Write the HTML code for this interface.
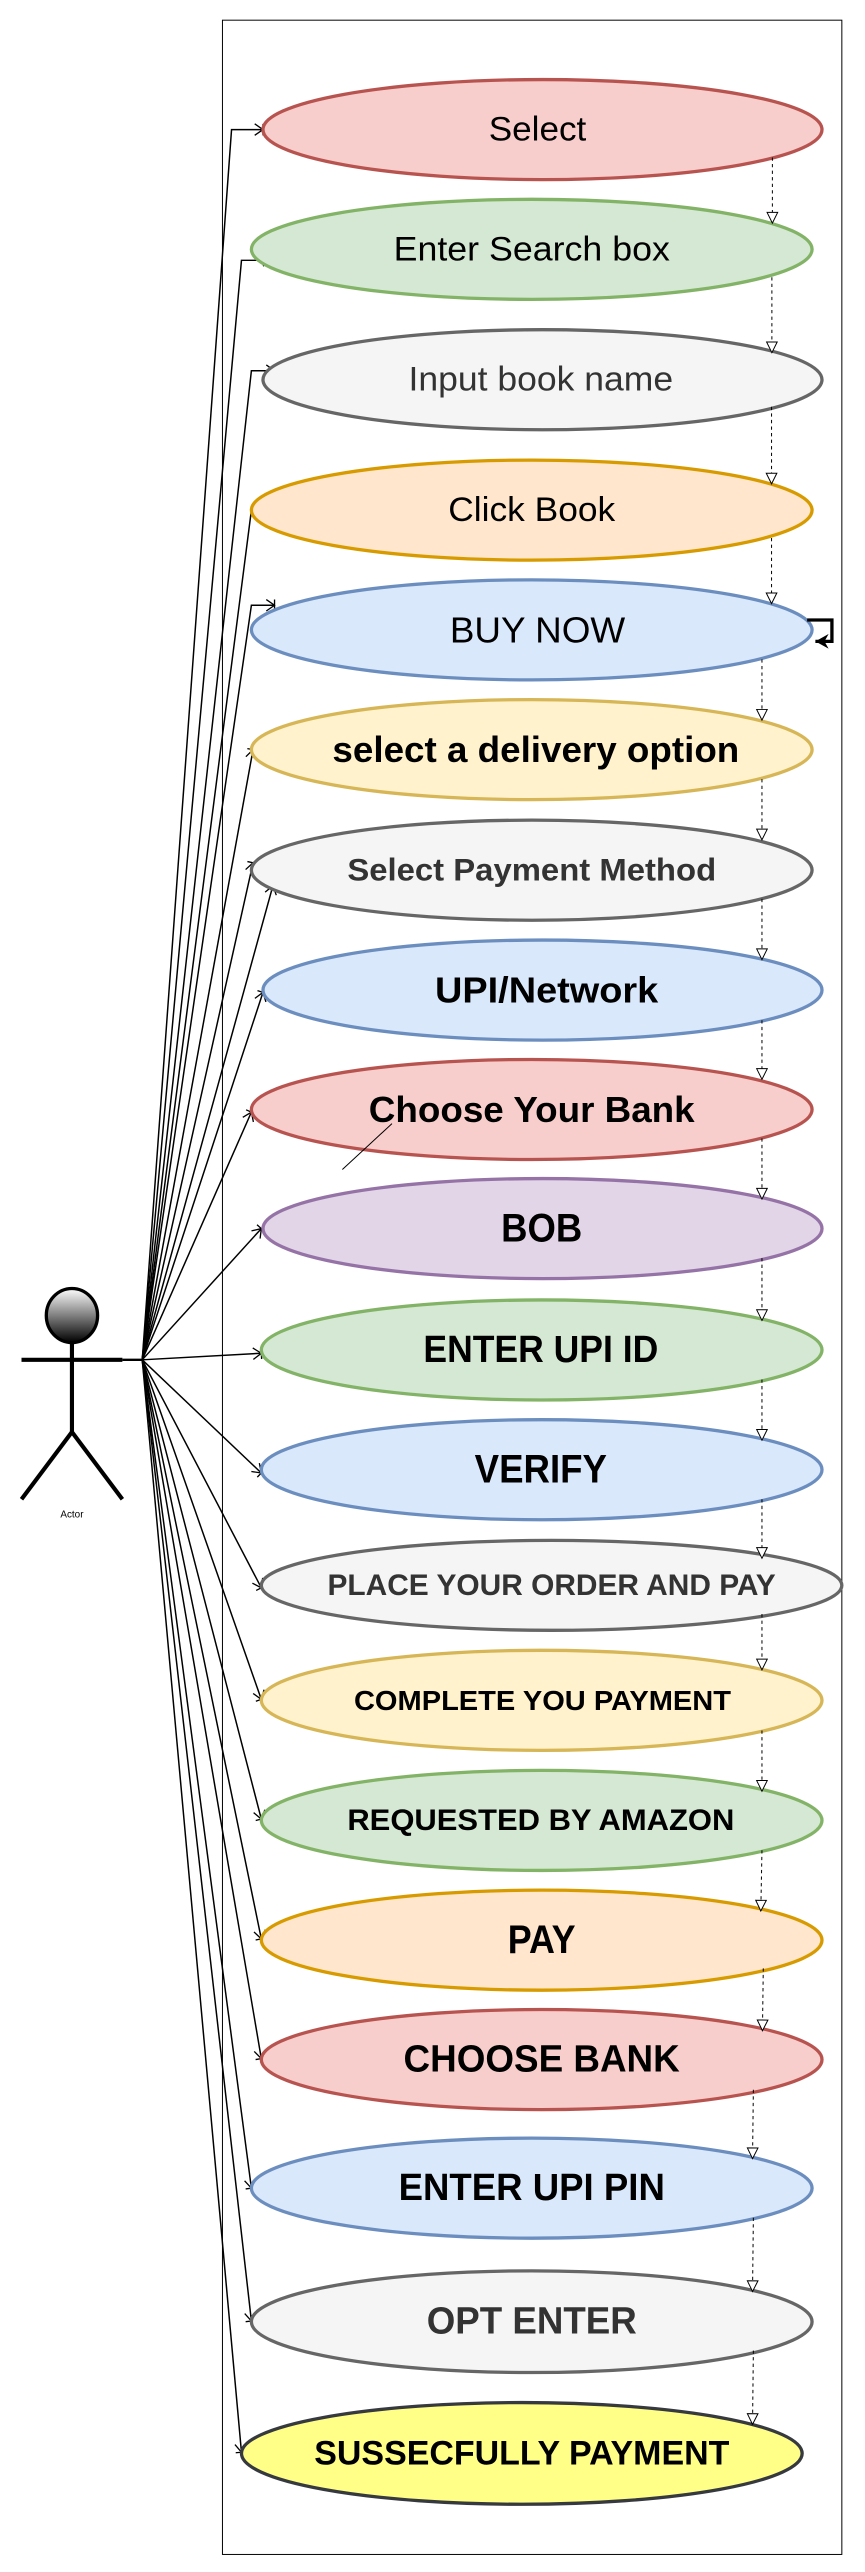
<!DOCTYPE html>
<html><head><meta charset="utf-8"><style>html,body{margin:0;padding:0;background:#fff}svg{display:block}</style></head>
<body>
<svg width="865" height="2572" viewBox="0 0 523 1568" preserveAspectRatio="none" xmlns="http://www.w3.org/2000/svg" font-family="Liberation Sans, Arial, sans-serif">
<defs>
<marker id="tri" markerWidth="8" markerHeight="8" refX="7" refY="4" orient="auto" markerUnits="userSpaceOnUse"><path d="M0.5,0.8 L7,4 L0.5,7.2 Z" fill="#fff" stroke="#000" stroke-width="0.6"/></marker>
<marker id="tick" markerWidth="8" markerHeight="8" refX="6" refY="4" orient="auto" markerUnits="userSpaceOnUse"><path d="M1,0.5 L6,4 L1,7.5 M6,0.5 L6,7.5" fill="none" stroke="#000" stroke-width="0.8"/></marker>
<marker id="fill" markerWidth="10" markerHeight="10" refX="8" refY="5" orient="auto" markerUnits="userSpaceOnUse"><path d="M0,0.5 L8,5 L0,9.5 L2.5,5 Z" fill="#000"/></marker>
<linearGradient id="hg" x1="0" y1="0" x2="0" y2="1"><stop offset="0" stop-color="#fff"/><stop offset="1" stop-color="#000"/></linearGradient>
</defs>

<rect x="134.5" y="12.3" width="374.5" height="1545" fill="none" stroke="#000" stroke-width="0.6"/>

<g fill="none" stroke="#000" stroke-width="0.9" marker-end="url(#tick)">
<polyline points="86,829 140,79 159,79"/>
<polyline points="86,829 146,158.7 164,158.7"/>
<polyline points="86,829 152,226 166,226"/>
<polyline points="86,829 152,311 166,311"/>
<polyline points="86,829 152,369 166,369"/>
<line x1="86" y1="829" x2="153" y2="457"/>
<line x1="86" y1="829" x2="153" y2="526"/>
<line x1="86" y1="829" x2="165" y2="540"/>
<line x1="86" y1="829" x2="159" y2="605"/>
<line x1="86" y1="829" x2="152" y2="678"/>
<line x1="86" y1="829" x2="158" y2="749"/>
<line x1="86" y1="829" x2="158" y2="825"/>
<line x1="86" y1="829" x2="158" y2="898"/>
<line x1="86" y1="829" x2="158" y2="968"/>
<line x1="86" y1="829" x2="158" y2="1036"/>
<line x1="86" y1="829" x2="158" y2="1109"/>
<line x1="86" y1="829" x2="158" y2="1182"/>
<line x1="86" y1="829" x2="158" y2="1255"/>
<line x1="86" y1="829" x2="152" y2="1334"/>
<line x1="86" y1="829" x2="152" y2="1415"/>
<line x1="86" y1="829" x2="146" y2="1495"/>
</g>

<g stroke-width="2">
<ellipse cx="328" cy="79" rx="169" ry="30.5" fill="#f8cecc" stroke="#b85450"/>
<ellipse cx="321.5" cy="152" rx="169.5" ry="30.5" fill="#d5e8d4" stroke="#82b366"/>
<ellipse cx="328" cy="231.5" rx="169" ry="30.5" fill="#f5f5f5" stroke="#666666"/>
<ellipse cx="321.5" cy="311" rx="169.5" ry="30.5" fill="#ffe6cc" stroke="#d79b00"/>
<ellipse cx="321.5" cy="384" rx="169.5" ry="30.5" fill="#dae8fc" stroke="#6c8ebf"/>
<ellipse cx="321.5" cy="457" rx="169.5" ry="30.5" fill="#fff2cc" stroke="#d6b656"/>
<ellipse cx="321.5" cy="530.5" rx="169.5" ry="30.5" fill="#f5f5f5" stroke="#666666"/>
<ellipse cx="328" cy="603.6" rx="169" ry="30.5" fill="#dae8fc" stroke="#6c8ebf"/>
<ellipse cx="321.5" cy="676.4" rx="169.5" ry="30.5" fill="#f8cecc" stroke="#b85450"/>
<ellipse cx="328" cy="749" rx="169" ry="30.5" fill="#e1d5e7" stroke="#9673a6"/>
<ellipse cx="327.5" cy="823" rx="169.5" ry="30.5" fill="#d5e8d4" stroke="#82b366"/>
<ellipse cx="327.5" cy="896" rx="169.5" ry="30.5" fill="#dae8fc" stroke="#6c8ebf"/>
<ellipse cx="333.5" cy="966.5" rx="175.5" ry="27.4" fill="#f5f5f5" stroke="#666666"/>
<ellipse cx="327.5" cy="1036.6" rx="169.5" ry="30.5" fill="#fff2cc" stroke="#d6b656"/>
<ellipse cx="327.5" cy="1109.8" rx="169.5" ry="30.5" fill="#d5e8d4" stroke="#82b366"/>
<ellipse cx="327.5" cy="1182.8" rx="169.5" ry="30.5" fill="#ffe6cc" stroke="#d79b00"/>
<ellipse cx="327.5" cy="1255.6" rx="169.5" ry="30.5" fill="#f8cecc" stroke="#b85450"/>
<ellipse cx="321.5" cy="1334" rx="169.5" ry="30.5" fill="#dae8fc" stroke="#6c8ebf"/>
<ellipse cx="321.5" cy="1415.4" rx="169.5" ry="31" fill="#f5f5f5" stroke="#666666"/>
<ellipse cx="315.5" cy="1495.7" rx="169.5" ry="31" fill="#ffff88" stroke="#36393d"/>
</g>

<g fill="none" stroke="#000" stroke-width="0.6" stroke-dasharray="2,2" marker-end="url(#tri)">
<line x1="467" y1="96" x2="467" y2="136"/>
<line x1="466.7" y1="169" x2="466.7" y2="215"/>
<line x1="466.5" y1="248" x2="466.5" y2="295"/>
<line x1="466.5" y1="328" x2="466.5" y2="368"/>
<line x1="460.7" y1="402" x2="460.7" y2="439"/>
<line x1="460.7" y1="475" x2="460.7" y2="512"/>
<line x1="460.7" y1="548" x2="460.7" y2="585"/>
<line x1="460.7" y1="622" x2="460.7" y2="658"/>
<line x1="460.7" y1="694" x2="460.7" y2="731"/>
<line x1="460.7" y1="767" x2="460.7" y2="805"/>
<line x1="460.7" y1="841" x2="460.7" y2="878"/>
<line x1="460.7" y1="914" x2="460.7" y2="950"/>
<line x1="460.7" y1="984" x2="460.7" y2="1018"/>
<line x1="460.7" y1="1055" x2="460.7" y2="1092"/>
<line x1="460.7" y1="1128" x2="460" y2="1165"/>
<line x1="461.5" y1="1200" x2="461" y2="1238"/>
<line x1="455.5" y1="1274" x2="455" y2="1316"/>
<line x1="455.5" y1="1352" x2="455" y2="1397"/>
<line x1="455.5" y1="1433" x2="455" y2="1478"/>
</g>

<polyline points="488,378 503,378 503,391 493,391" fill="none" stroke="#000" stroke-width="2" marker-end="url(#fill)"/>
<line x1="237" y1="685" x2="207" y2="713" stroke="#000" stroke-width="0.6"/>

<g stroke="#000" stroke-width="2.5" fill="none" stroke-linecap="butt">
<ellipse cx="43.5" cy="802" rx="15.5" ry="16.5" fill="url(#hg)" stroke-width="2"/>
<line x1="43.5" y1="818.5" x2="43.5" y2="873"/>
<line x1="13" y1="829" x2="74" y2="829"/>
<line x1="74" y1="829" x2="86" y2="829" stroke-width="1.5"/>
<line x1="43.5" y1="873" x2="13" y2="914"/>
<line x1="43.5" y1="873" x2="74" y2="914"/>
</g>
<text x="43.5" y="925" font-size="6" text-anchor="middle" fill="#000">Actor</text>

<g text-anchor="middle" dominant-baseline="central" fill="#000">
<text x="325" y="79" font-size="21" textLength="59" lengthAdjust="spacingAndGlyphs">Select</text>
<text x="321.5" y="152" font-size="21" textLength="167" lengthAdjust="spacingAndGlyphs">Enter Search box</text>
<text x="327" y="231.5" font-size="21" textLength="160" lengthAdjust="spacingAndGlyphs" fill="#333">Input book name</text>
<text x="321.5" y="311" font-size="21" textLength="101" lengthAdjust="spacingAndGlyphs">Click Book</text>
<text x="325" y="384" font-size="22" textLength="106" lengthAdjust="spacingAndGlyphs">BUY NOW</text>
<text x="324" y="457" font-size="22" font-weight="bold" textLength="246" lengthAdjust="spacingAndGlyphs">select a delivery option</text>
<text x="321.5" y="530.5" font-size="19" font-weight="bold" textLength="223" lengthAdjust="spacingAndGlyphs" fill="#333">Select Payment Method</text>
<text x="330.5" y="603.6" font-size="22" font-weight="bold" textLength="135" lengthAdjust="spacingAndGlyphs">UPI/Network</text>
<text x="321.5" y="676.4" font-size="22" font-weight="bold" textLength="197" lengthAdjust="spacingAndGlyphs">Choose Your Bank</text>
<text x="327.5" y="749" font-size="24" font-weight="bold" textLength="49" lengthAdjust="spacingAndGlyphs">BOB</text>
<text x="327" y="823" font-size="23" font-weight="bold" textLength="142" lengthAdjust="spacingAndGlyphs">ENTER UPI ID</text>
<text x="327" y="896" font-size="24" font-weight="bold" textLength="80" lengthAdjust="spacingAndGlyphs">VERIFY</text>
<text x="333.5" y="966.5" font-size="18" font-weight="bold" textLength="271" lengthAdjust="spacingAndGlyphs" fill="#333">PLACE YOUR ORDER AND PAY</text>
<text x="328" y="1036.6" font-size="17" font-weight="bold" textLength="228" lengthAdjust="spacingAndGlyphs">COMPLETE YOU PAYMENT</text>
<text x="327" y="1109.8" font-size="18" font-weight="bold" textLength="234" lengthAdjust="spacingAndGlyphs">REQUESTED BY AMAZON</text>
<text x="327.5" y="1182.8" font-size="24" font-weight="bold" textLength="41" lengthAdjust="spacingAndGlyphs">PAY</text>
<text x="327.5" y="1255.6" font-size="23" font-weight="bold" textLength="167" lengthAdjust="spacingAndGlyphs">CHOOSE BANK</text>
<text x="321.5" y="1334" font-size="23" font-weight="bold" textLength="161" lengthAdjust="spacingAndGlyphs">ENTER UPI PIN</text>
<text x="321.5" y="1415.4" font-size="23" font-weight="bold" textLength="127" lengthAdjust="spacingAndGlyphs" fill="#333">OPT ENTER</text>
<text x="315.5" y="1495.7" font-size="21" font-weight="bold" textLength="251" lengthAdjust="spacingAndGlyphs">SUSSECFULLY PAYMENT</text>
</g>
</svg>
</body></html>
